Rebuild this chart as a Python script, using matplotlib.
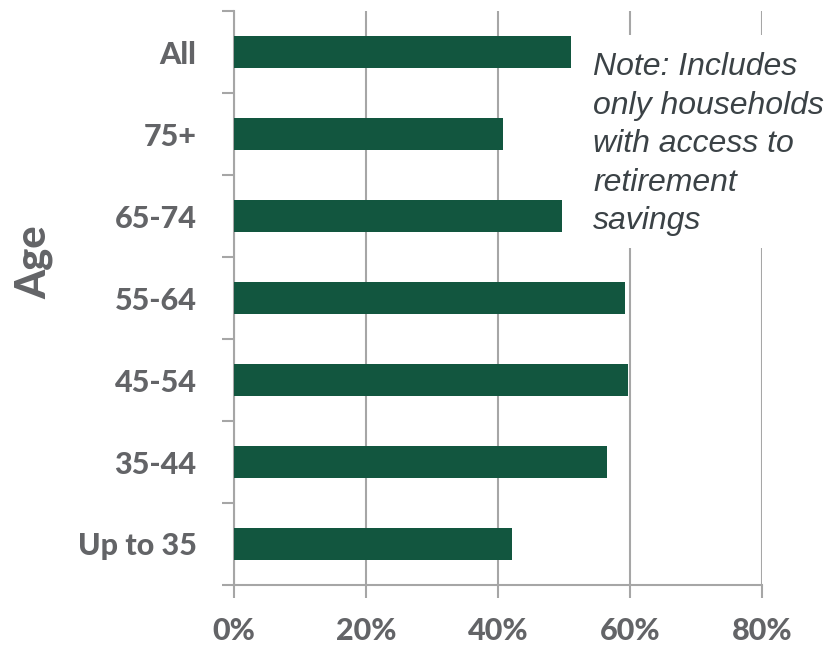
import matplotlib
matplotlib.use('Agg')
import matplotlib.pyplot as plt
from matplotlib.patches import Rectangle
import numpy as np

# values (share in %)
ages = ['Up to 35', '35-44', '45-54', '55-64', '65-74', '75+', 'All']
shares = [42.1, 56.5, 59.7, 59.2, 49.7, 40.8, 51.1]
xticks = [0, 20, 40, 60, 80]
note = 'Note: Includes\nonly households\nwith access to\nretirement\nsavings'

bar_color = '#12563f'
grid_color = '#a6a6a6'
label_color = '#636467'

fig = plt.figure(figsize=(8.27, 6.48), dpi=100)
ax = fig.add_axes([234 / 827, 1 - 585 / 648, 528 / 827, 574 / 648])

y = np.arange(len(ages))
ax.barh(y, shares, height=0.4, color=bar_color, zorder=3)

ax.set_xlim(0, 80)
ax.set_ylim(-0.5, len(ages) - 0.5)
ax.set_xticks(xticks)
ax.set_xticklabels([f'{v}%' for v in xticks])
ax.set_yticks(y)
ax.set_yticklabels(ages)
ax.set_yticks(np.arange(-0.5, len(ages)), minor=True)

for s in ['top', 'right']:
    ax.spines[s].set_visible(False)
for s in ['left', 'bottom']:
    ax.spines[s].set_color(grid_color)
    ax.spines[s].set_linewidth(1.5)

ax.xaxis.grid(True, color=grid_color, linewidth=1.5, zorder=0)
ax.set_axisbelow(True)

ax.tick_params(axis='x', length=9, width=1.5, color=grid_color, pad=14,
               labelsize=22, labelcolor=label_color)
ax.tick_params(axis='y', which='major', length=0, pad=27,
               labelsize=22, labelcolor=label_color)
ax.tick_params(axis='y', which='minor', length=9, width=1.5, color=grid_color)
for lab in ax.get_xticklabels() + ax.get_yticklabels():
    lab.set_fontfamily('Lato')
    lab.set_fontweight(900)

fig.text(34 / 827, 1 - 262 / 648, 'Age', rotation=90, ha='center', va='center',
         fontsize=30, fontweight=900, color=label_color, family='Lato')

# white note box hiding the gridlines behind it
ax.add_patch(Rectangle((52.1, 3.61), 40, 2.6, facecolor='white',
                       edgecolor='none', zorder=4, clip_on=False))
ax.text(54.4, 6.0, note, va='top', ha='left', fontsize=23, style='italic',
        family='Liberation Sans', color='#3b4246', linespacing=1.37, zorder=5)

fig.savefig('out.png', dpi=100)
